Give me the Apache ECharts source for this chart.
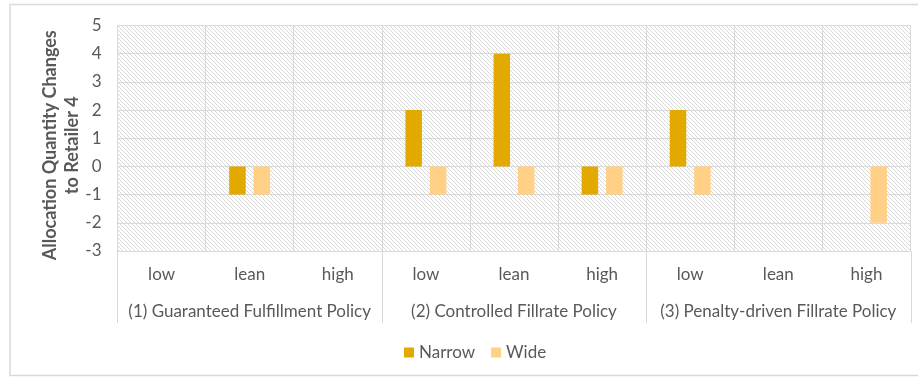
<!DOCTYPE html>
<html>
<head>
<meta charset="utf-8">
<script src="https://cdn.jsdelivr.net/npm/echarts@6/dist/echarts.min.js"></script>
<style>
  html, body { margin: 0; padding: 0; background: #ffffff; }
  #chart { width: 918px; height: 377px; }
</style>
</head>
<body>
<div id="chart"></div>
<script>
// Allocation quantity changes to Retailer 4, by policy and inventory level
const levels = ['low', 'lean', 'high', 'low', 'lean', 'high', 'low', 'lean', 'high'];
const policies = [
  '(1) Guaranteed Fulfillment Policy',
  '(2) Controlled Fillrate Policy',
  '(3) Penalty-driven Fillrate Policy'
];
const narrow = [0, -1, 0, 2, 4, -1, 2, 0, 0];
const wide = [0, -1, 0, -1, -1, -1, -1, 0, -2];
const yTicks = { min: -3, max: 5, step: 1 };
const levelsPerPolicy = 3;

const FONT = 'Lato, "Open Sans", sans-serif';
const TEXT = '#595959';
const LINE = '#d9d9d9';

// Diagonal hatch tile for the plot background
function hatchTile() {
  const c = document.createElement('canvas');
  c.width = 4; c.height = 4;
  const g = c.getContext('2d');
  g.fillStyle = '#ffffff';
  g.fillRect(0, 0, 4, 4);
  g.fillStyle = '#d8d8d8';
  for (let i = 0; i < 4; i++) g.fillRect(i, i, 1, 1);
  return c;
}

const outerFrame = {
  type: 'rect',
  shape: { x: 10, y: 4.5, width: 930, height: 371 },
  style: { fill: 'none', stroke: LINE, lineWidth: 1.5 },
  silent: true
};

const chart = echarts.init(document.getElementById('chart'), null, { renderer: 'canvas' });
chart.setOption({
  animation: false,
  backgroundColor: '#ffffff',
  textStyle: { fontFamily: FONT },
  graphic: [outerFrame],
  grid: {
    left: 117.5, right: 7.5, top: 25.5, bottom: 126,
    show: true,
    borderWidth: 0,
    backgroundColor: { image: hatchTile(), repeat: 'repeat' }
  },
  legend: {
    left: 399, top: 339,
    itemWidth: 10, itemHeight: 10, itemGap: 16,
    icon: 'rect',
    textStyle: { color: TEXT, fontSize: 17, fontFamily: FONT },
    data: ['Narrow', 'Wide']
  },
  xAxis: [{
    type: 'category',
    data: levels,
    position: 'bottom',
    axisLine: { show: true, lineStyle: { color: LINE, width: 1 } },
    axisTick: { show: false },
    axisLabel: { interval: 0, margin: 15, color: TEXT, fontSize: 17, fontFamily: FONT },
    splitLine: { show: true, interval: 0, lineStyle: { color: LINE, width: 1 } }
  }, {
    type: 'category',
    data: policies,
    position: 'bottom',
    offset: 37,
    axisLine: { show: false },
    axisTick: { show: false },
    axisLabel: { interval: 0, margin: 15, color: TEXT, fontSize: 17, fontFamily: FONT },
    splitLine: { show: false }
  }],
  yAxis: {
    type: 'value',
    min: yTicks.min, max: yTicks.max, interval: yTicks.step,
    name: 'Allocation Quantity Changes\nto Retailer 4',
    nameLocation: 'middle',
    nameRotate: 90,
    nameGap: 34,
    nameMoveOverlap: false,
    nameTextStyle: {
      color: TEXT, fontSize: 18, fontWeight: 'bold', lineHeight: 22, fontFamily: FONT,
      padding: [0, 14, 0, 0]
    },
    axisLine: { show: false },
    axisTick: { show: false },
    axisLabel: { margin: 16, color: TEXT, fontSize: 17, fontFamily: FONT },
    splitLine: { show: true, lineStyle: { color: LINE, width: 1 } }
  },
  series: [{
    name: 'Narrow',
    type: 'bar',
    data: narrow,
    barWidth: 16.5,
    barGap: '48%',
    itemStyle: { color: '#E2AA00' }
  }, {
    name: 'Wide',
    type: 'bar',
    data: wide,
    barWidth: 16.5,
    barGap: '48%',
    itemStyle: { color: '#FFD086' }
  }]
});

// Policy separators below the plot, placed on category boundaries from the axis scale
const c0 = chart.convertToPixel({ xAxisIndex: 0 }, 0);
const c1 = chart.convertToPixel({ xAxisIndex: 0 }, 1);
const band = c1 - c0;
const yBase = chart.convertToPixel({ yAxisIndex: 0 }, yTicks.min);
const separators = [];
for (let i = 0; i <= levels.length; i += levelsPerPolicy) {
  const x = Math.round(c0 + band * (i - 0.5)) + 0.5;
  separators.push({
    type: 'line',
    shape: { x1: x, y1: yBase, x2: x, y2: yBase + 72 },
    style: { stroke: LINE, lineWidth: 1 },
    silent: true
  });
}
chart.setOption({ graphic: [outerFrame].concat(separators) }, { replaceMerge: ['graphic'] });
</script>
</body>
</html>
